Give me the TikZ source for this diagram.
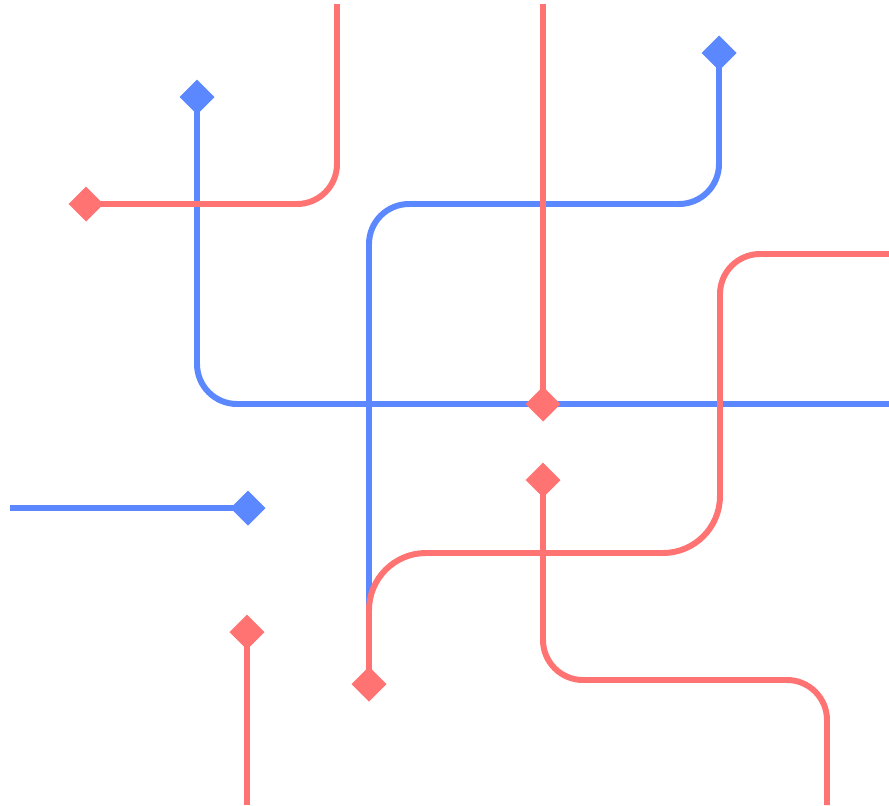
\documentclass[tikz,border=0pt]{standalone}
\usepackage{xcolor}
\usepackage{tikz}
\usetikzlibrary{shapes.geometric,backgrounds}
\definecolor{rose}{HTML}{FF7373}
\definecolor{azure}{HTML}{5B87FF}
\tikzset{
  wire/.style={line width=3.4pt, line join=round, rounded corners=0.8cm},
  redwire/.style={wire, draw=rose},
  bluewire/.style={wire, draw=azure},
  tip/.style={diamond, minimum size=0.7cm, inner sep=0pt, outer sep=0pt},
  redtip/.style={tip, fill=rose},
  bluetip/.style={tip, fill=azure},
}

\begin{document}
\begin{tikzpicture}[x=0.02cm, y=-0.02cm]
  \useasboundingbox (0,0) rectangle (889,805);

  % free ends at the edges
  \coordinate (rTopA) at (337,4);
  \coordinate (rTopB) at (543,4);
  \coordinate (rRight) at (889,254);
  \coordinate (rBotA) at (827,805);
  \coordinate (rBotB) at (247,805);
  \coordinate (bRight) at (889,404);
  \coordinate (bLeft) at (10,508);
  \coordinate (bEnd) at (369,610);

  % diamond tips
  \node[redtip] (rA) at (86,204) {};
  \node[redtip] (rB) at (543,404) {};
  \node[redtip] (rC) at (543,480) {};
  \node[redtip] (rD) at (369,684) {};
  \node[redtip] (rE) at (247,632) {};
  \node[bluetip] (bA) at (197,97) {};
  \node[bluetip] (bB) at (719,53) {};
  \node[bluetip] (bC) at (248,508) {};

  \begin{pgfonlayer}{background}
    \draw[bluewire] (bA.center) |- (bRight);
    \draw[bluewire] (bB.center) -- (719,204) -- (369,204) -- (bEnd);
    \draw[bluewire] (bLeft) -- (bC.center);

    \draw[redwire] (rTopA) |- (rA.center);
    \draw[redwire] (rTopB) -- (rB.center);
    \draw[redwire] (rC.center) -- (543,680) -- (827,680) -- (rBotA);
    \draw[redwire] (rRight) -- (720,254) [rounded corners=1.14cm] -- (720,553) -- (369,553) -- (rD.center);
    \draw[redwire] (rE.center) -- (rBotB);
  \end{pgfonlayer}
\end{tikzpicture}
\end{document}
